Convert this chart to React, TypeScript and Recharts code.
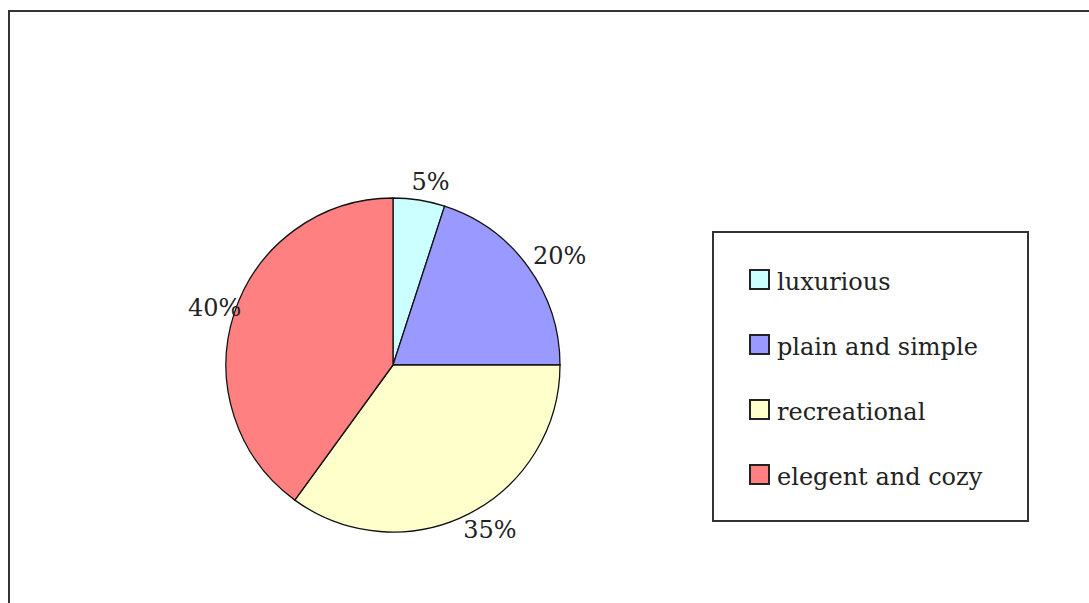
import { PieChart, Pie, Cell, Legend } from 'recharts'

const categories = ['luxurious', 'plain and simple', 'recreational', 'elegent and cozy']
const shares = [5, 20, 35, 40]
const colors = ['#CCFFFF', '#9999FF', '#FFFFCC', '#FF8080']

const chartData = categories.map((name, i) => ({ name, value: shares[i] }))

const FONT = '"DejaVu Serif", "Liberation Serif", serif'
const RAD = Math.PI / 180

function renderLabel(props: any) {
  const { cx, cy, midAngle, outerRadius, value } = props
  const text = `${value}%`
  const w = text.length * 0.64 * 24
  const h = 24
  const r = outerRadius + 6
  const cos = Math.cos(-midAngle * RAD)
  const sin = Math.sin(-midAngle * RAD)
  // excel nudges labels a little to the right
  const x = cx + (r + w / 2) * cos + 8
  const y = cy + r * sin + (h / 2) * sin
  return (
    <text
      x={x}
      y={y}
      textAnchor="middle"
      dominantBaseline="central"
      fontFamily={FONT}
      fontSize={24}
      fill="#222"
    >
      {text}
    </text>
  )
}

function renderLegend() {
  return (
    <div
      style={{
        boxSizing: 'border-box',
        width: 317,
        height: 291,
        border: '2px solid #333',
        background: '#fff',
        paddingTop: 17,
        paddingLeft: 35,
        fontFamily: FONT,
        fontSize: 24,
        color: '#222',
      }}
    >
      {categories.map((name, i) => (
        <div key={name} style={{ height: 65, lineHeight: '65px', whiteSpace: 'nowrap' }}>
          <span
            style={{
              display: 'inline-block',
              boxSizing: 'border-box',
              width: 21,
              height: 21,
              border: '2px solid #222',
              background: colors[i],
              verticalAlign: 'baseline',
              marginRight: 7,
            }}
          />
          {name}
        </div>
      ))}
    </div>
  )
}

export default function App() {
  return (
    <div
      style={{
        position: 'absolute',
        left: 0,
        top: 0,
        width: 1089,
        height: 603,
        overflow: 'hidden',
        background: '#fff',
      }}
    >
      <div
        style={{
          position: 'absolute',
          left: 8,
          top: 10,
          width: 1200,
          height: 800,
          border: '2px solid #333',
        }}
      />
      <div style={{ position: 'absolute', left: 0, top: 0 }}>
        <PieChart width={1089} height={603} margin={{ top: 0, right: 0, bottom: 0, left: 0 }}>
          <Pie
            data={chartData}
            dataKey="value"
            nameKey="name"
            cx={393}
            cy={365}
            outerRadius={167}
            startAngle={90}
            endAngle={-270}
            stroke="#111"
            strokeWidth={1.3}
            label={renderLabel}
            labelLine={false}
            isAnimationActive={false}
          >
            {chartData.map((d, i) => (
              <Cell key={d.name} fill={colors[i]} />
            ))}
          </Pie>
          <Legend
            content={renderLegend}
            wrapperStyle={{ left: 712, top: 231, width: 317, height: 291 }}
          />
        </PieChart>
      </div>
    </div>
  )
}
